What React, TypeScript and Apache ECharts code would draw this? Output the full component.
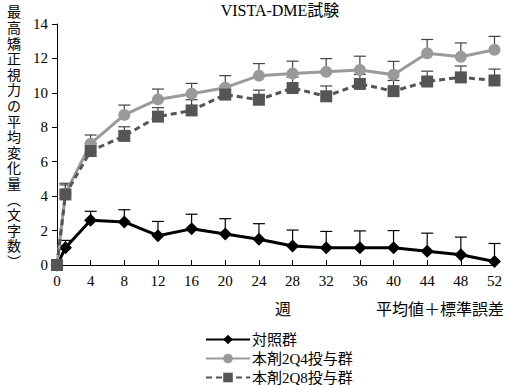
import React, { useEffect, useRef } from "react";
import * as echarts from "echarts";

const weeks = [0, 1, 4, 8, 12, 16, 20, 24, 28, 32, 36, 40, 44, 48, 52];
const xTicks = [0, 4, 8, 12, 16, 20, 24, 28, 32, 36, 40, 44, 48, 52];
const controlMean = [0, 1.0, 2.6, 2.5, 1.7, 2.1, 1.8, 1.5, 1.1, 1.0, 1.0, 1.0, 0.8, 0.6, 0.2];
const controlSE = [0, 0.43, 0.52, 0.71, 0.83, 0.85, 0.89, 0.9, 0.93, 0.95, 0.98, 1.0, 1.05, 1.02, 1.05];
const q4Mean = [0, 4.15, 7.05, 8.72, 9.62, 9.95, 10.3, 11.0, 11.12, 11.22, 11.33, 11.05, 12.3, 12.1, 12.5];
const q4SE = [0, 0.6, 0.5, 0.57, 0.6, 0.6, 0.7, 0.7, 0.72, 0.77, 0.8, 0.78, 0.8, 0.8, 0.78];
const q8Mean = [0, 4.1, 6.62, 7.5, 8.62, 8.98, 9.9, 9.6, 10.28, 9.8, 10.52, 10.1, 10.66, 10.9, 10.72];
const q8SE = [0, 0.55, 0.45, 0.53, 0.52, 0.62, 0.5, 0.56, 0.64, 0.6, 0.55, 0.62, 0.6, 0.66, 0.66];

const seriesNames = ["対照群", "本剤2Q4投与群", "本剤2Q8投与群"];
const title = "VISTA-DME試験";
const yName = "最高矯正視力の平均変化量︵文字数︶";
const xName = "週";
const note = "平均値＋標準誤差";

const FONT = "'Liberation Serif', 'Noto Sans CJK JP', serif";

function errData(mean: number[], se: number[]) {
  return weeks.map((w, i) => [w, mean[i], mean[i] + se[i]]);
}

function errSeries(mean: number[], se: number[], color: string) {
  return {
    type: "custom",
    z: 2,
    silent: true,
    encode: { x: 0, y: 1 },
    data: errData(mean, se),
    renderItem: (params: any, api: any) => {
      if (api.value(2) - api.value(1) <= 0) return null;
      const p0 = api.coord([api.value(0), api.value(1)]);
      const p1 = api.coord([api.value(0), api.value(2)]);
      const hw = 6;
      return {
        type: "group",
        children: [
          { type: "line", shape: { x1: p0[0], y1: p0[1], x2: p1[0], y2: p1[1] }, style: { stroke: color, lineWidth: 1.2 } },
          { type: "line", shape: { x1: p1[0] - hw, y1: p1[1], x2: p1[0] + hw, y2: p1[1] }, style: { stroke: color, lineWidth: 1.2 } },
        ],
      };
    },
  };
}

export default function App() {
  const ref = useRef<HTMLDivElement>(null);
  useEffect(() => {
    const chart = echarts.init(ref.current!, null, { renderer: "svg" });
    chart.setOption({
      animation: false,
      backgroundColor: "#fff",
      textStyle: { fontFamily: FONT },
      grid: { left: 57, right: 9, top: 24, bottom: 120, containLabel: false },
      xAxis: {
        type: "value",
        min: 0,
        max: 52,
        interval: 4,
        axisLine: { lineStyle: { color: "#000", width: 1 } },
        axisTick: { inside: true, length: 5, lineStyle: { color: "#000" } },
        axisLabel: {
          color: "#000",
          fontSize: 15,
          fontFamily: FONT,
          margin: 8,
          formatter: (v: number) => (xTicks.includes(v) ? String(v) : ""),
        },
        splitLine: { show: false },
      },
      yAxis: {
        type: "value",
        min: 0,
        max: 14,
        interval: 2,
        axisLine: { show: true, lineStyle: { color: "#000", width: 1 } },
        axisTick: { show: true, inside: false, length: 5, lineStyle: { color: "#000" } },
        axisLabel: { color: "#000", fontSize: 15, fontFamily: FONT, margin: 9 },
        splitLine: { show: false },
      },
      legend: {
        orient: "vertical",
        left: 205,
        top: 332,
        padding: 0,
        height: 80,
        itemWidth: 44,
        itemHeight: 12,
        itemGap: 4,
        data: seriesNames,
        textStyle: { color: "#000", fontSize: 15, fontFamily: FONT, padding: [0, 0, 0, -3] },
      },
      graphic: [
        { type: "text", x: 280, y: 2, style: { text: title, fontSize: 16, fontFamily: FONT, fill: "#000", textAlign: "center" } },
        {
          type: "text",
          x: 14,
          y: 5,
          style: {
            text: yName.split("").join("\n"),
            fontSize: 14,
            lineHeight: 15.6,
            fontFamily: FONT,
            fill: "#000",
            textAlign: "center",
          },
        },
        { type: "text", x: 283, y: 301, style: { text: xName, fontSize: 16, fontFamily: FONT, fill: "#000", textAlign: "center" } },
        { type: "text", x: 504, y: 301, style: { text: note, fontSize: 16, fontFamily: FONT, fill: "#000", textAlign: "right" } },
      ],
      series: [
        errSeries(controlMean, controlSE, "#000"),
        errSeries(q4Mean, q4SE, "#444"),
        errSeries(q8Mean, q8SE, "#444"),
        {
          name: seriesNames[0],
          type: "line",
          z: 3,
          data: weeks.map((w, i) => [w, controlMean[i]]),
          symbol: "diamond",
          symbolSize: 13,
          itemStyle: { color: "#000" },
          lineStyle: { color: "#000", width: 3 },
        },
        {
          name: seriesNames[1],
          type: "line",
          z: 4,
          data: weeks.map((w, i) => [w, q4Mean[i]]),
          symbol: "circle",
          symbolSize: 12,
          itemStyle: { color: "#9a9a9a" },
          lineStyle: { color: "#9a9a9a", width: 3 },
        },
        {
          name: seriesNames[2],
          type: "line",
          z: 5,
          data: weeks.map((w, i) => [w, q8Mean[i]]),
          symbol: "rect",
          symbolSize: 12,
          itemStyle: { color: "#555" },
          lineStyle: { color: "#555", width: 3, type: [6, 4] },
        },
      ],
    });
    return () => chart.dispose();
  }, []);
  return <div ref={ref} style={{ position: "absolute", left: 0, top: 0, width: 505, height: 385 }} />;
}
